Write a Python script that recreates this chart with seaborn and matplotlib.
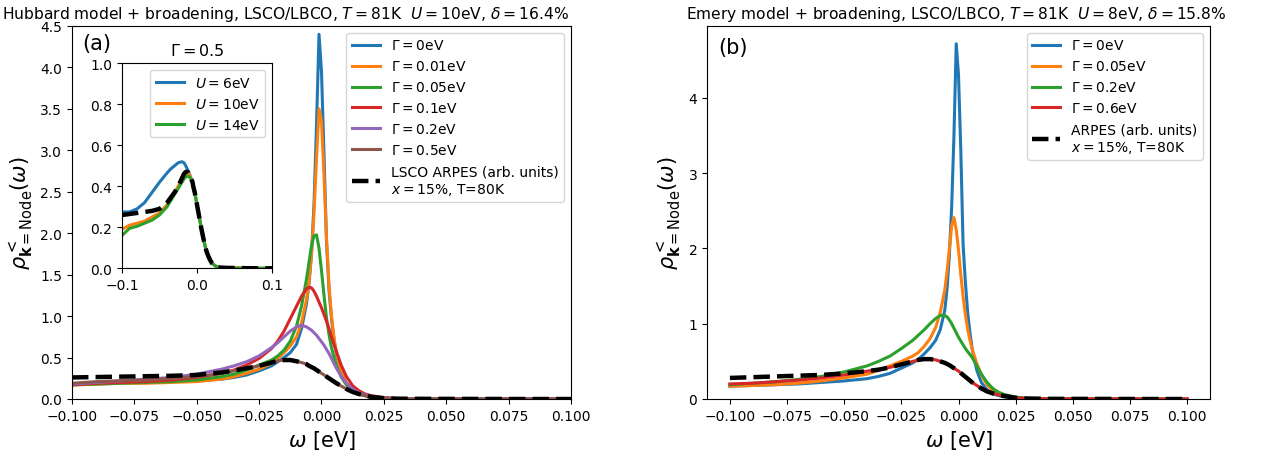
import matplotlib
matplotlib.use("Agg")
import matplotlib.pyplot as plt
import seaborn as sns

# ---------------- data ----------------
OMEGA = [-0.1, -0.09, -0.08, -0.07, -0.06, -0.05, -0.04,
         -0.035, -0.03, -0.025, -0.02, -0.0175, -0.015, -0.0125,
         -0.01, -0.008, -0.006, -0.005, -0.004, -0.003, -0.002, -0.001,
         0.0, 0.001, 0.002, 0.003, 0.004, 0.005, 0.006, 0.008,
         0.01, 0.0125, 0.015, 0.0175, 0.02, 0.025, 0.03, 0.04, 0.06, 0.08, 0.1]

# panel (a): Hubbard model, U = 10 eV
A_G0 = [0.18, 0.19, 0.20, 0.20, 0.21, 0.22, 0.24,
        0.26, 0.29, 0.34, 0.40, 0.45, 0.50, 0.56,
        0.66, 0.85, 1.15, 1.40, 1.75, 2.35, 3.30, 4.40,
        3.95, 2.95, 1.90, 1.32, 0.97, 0.72, 0.53, 0.30,
        0.18, 0.10, 0.06, 0.04, 0.025, 0.01, 0.005, 0.002, 0.001, 0.0, 0.0]
A_G001 = [0.17, 0.18, 0.19, 0.19, 0.20, 0.21, 0.24,
          0.27, 0.31, 0.36, 0.43, 0.49, 0.56, 0.64,
          0.75, 0.92, 1.20, 1.42, 1.75, 2.25, 2.90, 3.50,
          3.35, 2.70, 1.95, 1.38, 1.00, 0.74, 0.55, 0.32,
          0.19, 0.11, 0.065, 0.04, 0.025, 0.01, 0.005, 0.002, 0.001, 0.0, 0.0]
A_G005 = [0.17, 0.18, 0.19, 0.20, 0.21, 0.23, 0.27,
          0.30, 0.35, 0.41, 0.47, 0.52, 0.59, 0.70,
          0.88, 1.12, 1.45, 1.65, 1.85, 1.97, 1.98, 1.82,
          1.55, 1.25, 0.98, 0.78, 0.62, 0.50, 0.40, 0.26,
          0.17, 0.10, 0.06, 0.04, 0.025, 0.01, 0.005, 0.002, 0.001, 0.0, 0.0]
A_G01 = [0.17, 0.19, 0.20, 0.21, 0.23, 0.26, 0.31,
         0.35, 0.41, 0.49, 0.61, 0.70, 0.82, 0.97,
         1.12, 1.24, 1.33, 1.35, 1.34, 1.30, 1.24, 1.17,
         1.10, 1.02, 0.94, 0.85, 0.75, 0.66, 0.57, 0.40,
         0.27, 0.16, 0.10, 0.06, 0.04, 0.015, 0.006, 0.002, 0.001, 0.0, 0.0]
A_G02 = [0.18, 0.20, 0.22, 0.24, 0.26, 0.30, 0.36,
         0.40, 0.45, 0.52, 0.62, 0.68, 0.75, 0.82,
         0.87, 0.89, 0.87, 0.85, 0.83, 0.80, 0.77, 0.73,
         0.69, 0.65, 0.60, 0.55, 0.49, 0.43, 0.37, 0.27,
         0.19, 0.12, 0.075, 0.05, 0.03, 0.012, 0.005, 0.002, 0.001, 0.0, 0.0]
A_G05 = [0.19, 0.21, 0.22, 0.23, 0.25, 0.27, 0.31,
         0.34, 0.37, 0.40, 0.44, 0.46, 0.47, 0.47,
         0.455, 0.44, 0.42, 0.40, 0.385, 0.37, 0.35, 0.33,
         0.31, 0.29, 0.27, 0.25, 0.23, 0.21, 0.19, 0.155,
         0.12, 0.085, 0.06, 0.04, 0.025, 0.01, 0.004, 0.002, 0.001, 0.0, 0.0]
A_ARPES = [0.26, 0.265, 0.27, 0.275, 0.28, 0.29, 0.32,
           0.345, 0.37, 0.40, 0.44, 0.46, 0.47, 0.47,
           0.455, 0.44, 0.42, 0.40, 0.385, 0.37, 0.35, 0.33,
           0.31, 0.29, 0.27, 0.25, 0.23, 0.21, 0.19, 0.155,
           0.12, 0.085, 0.06, 0.04, 0.025, 0.01, 0.004, 0.002, 0.001, 0.0, 0.0]

# inset of (a): Gamma = 0.5, different U
IN_U6 = [0.275, 0.275, 0.29, 0.32, 0.37, 0.42, 0.465,
         0.485, 0.50, 0.515, 0.52, 0.515, 0.50, 0.48,
         0.46, 0.44, 0.42, 0.40, 0.385, 0.37, 0.35, 0.33,
         0.31, 0.29, 0.27, 0.25, 0.23, 0.21, 0.19, 0.155,
         0.12, 0.085, 0.06, 0.04, 0.025, 0.01, 0.004, 0.002, 0.001, 0.0, 0.0]
IN_U10 = [0.19, 0.21, 0.22, 0.23, 0.25, 0.27, 0.31,
          0.34, 0.37, 0.40, 0.44, 0.46, 0.47, 0.47,
          0.455, 0.44, 0.42, 0.40, 0.385, 0.37, 0.35, 0.33,
          0.31, 0.29, 0.27, 0.25, 0.23, 0.21, 0.19, 0.155,
          0.12, 0.085, 0.06, 0.04, 0.025, 0.01, 0.004, 0.002, 0.001, 0.0, 0.0]
IN_U14 = [0.16, 0.195, 0.205, 0.22, 0.235, 0.26, 0.30,
          0.33, 0.36, 0.39, 0.42, 0.435, 0.445, 0.45,
          0.445, 0.435, 0.42, 0.40, 0.385, 0.37, 0.35, 0.33,
          0.31, 0.29, 0.27, 0.25, 0.23, 0.21, 0.19, 0.155,
          0.12, 0.085, 0.06, 0.04, 0.025, 0.01, 0.004, 0.002, 0.001, 0.0, 0.0]

# panel (b): Emery model, U = 8 eV
B_G0 = [0.17, 0.18, 0.19, 0.20, 0.22, 0.24, 0.27,
        0.30, 0.34, 0.41, 0.48, 0.53, 0.60, 0.68,
        0.78, 0.92, 1.18, 1.47, 1.92, 2.55, 3.50, 4.72,
        4.30, 3.30, 2.05, 1.55, 1.15, 0.88, 0.66, 0.38,
        0.22, 0.12, 0.07, 0.045, 0.03, 0.012, 0.005, 0.002, 0.001, 0.0, 0.0]
B_G005 = [0.17, 0.18, 0.19, 0.21, 0.24, 0.28, 0.33,
          0.38, 0.44, 0.50, 0.57, 0.62, 0.70, 0.80,
          0.95, 1.15, 1.45, 1.70, 2.00, 2.30, 2.41, 2.25,
          1.98, 1.65, 1.36, 1.12, 0.93, 0.78, 0.66, 0.47,
          0.32, 0.19, 0.11, 0.065, 0.04, 0.015, 0.006, 0.002, 0.001, 0.0, 0.0]
B_G02 = [0.19, 0.21, 0.23, 0.26, 0.30, 0.36, 0.44,
         0.50, 0.57, 0.67, 0.78, 0.85, 0.92, 1.00,
         1.07, 1.11, 1.11, 1.09, 1.05, 1.00, 0.94, 0.88,
         0.82, 0.77, 0.72, 0.67, 0.63, 0.59, 0.55, 0.44,
         0.33, 0.22, 0.14, 0.09, 0.06, 0.025, 0.01, 0.003, 0.001, 0.0, 0.0]
B_G06 = [0.20, 0.21, 0.23, 0.25, 0.28, 0.32, 0.37,
         0.39, 0.42, 0.46, 0.50, 0.52, 0.53, 0.53,
         0.52, 0.50, 0.48, 0.465, 0.45, 0.43, 0.41, 0.39,
         0.37, 0.345, 0.32, 0.295, 0.27, 0.245, 0.22, 0.18,
         0.14, 0.10, 0.075, 0.055, 0.04, 0.015, 0.006, 0.002, 0.001, 0.0, 0.0]
B_ARPES = [0.28, 0.29, 0.30, 0.31, 0.32, 0.34, 0.37,
           0.39, 0.42, 0.46, 0.50, 0.52, 0.53, 0.53,
           0.52, 0.50, 0.48, 0.465, 0.45, 0.43, 0.41, 0.39,
           0.37, 0.345, 0.32, 0.295, 0.27, 0.245, 0.22, 0.18,
           0.14, 0.10, 0.075, 0.055, 0.04, 0.015, 0.006, 0.002, 0.001, 0.0, 0.0]

A_LABELS = [r"$\Gamma = 0$eV", r"$\Gamma = 0.01$eV", r"$\Gamma = 0.05$eV",
            r"$\Gamma = 0.1$eV", r"$\Gamma = 0.2$eV", r"$\Gamma = 0.5$eV"]
B_LABELS = [r"$\Gamma = 0$eV", r"$\Gamma = 0.05$eV", r"$\Gamma = 0.2$eV",
            r"$\Gamma = 0.6$eV"]
IN_LABELS = [r"$U = 6$eV", r"$U = 10$eV", r"$U = 14$eV"]
ARPES_A_LABEL = "LSCO ARPES (arb. units)\n" + r"$x = 15\%$, T=80K"
ARPES_B_LABEL = "ARPES (arb. units)\n" + r"$x = 15\%$, T=80K"
TITLE_A = r"Hubbard model + broadening, LSCO/LBCO, $T = 81$K  $U = 10$eV, $\delta = 16.4\%$"
TITLE_B = r"Emery model + broadening, LSCO/LBCO, $T = 81$K  $U = 8$eV, $\delta = 15.8\%$"

# ---------------- figure ----------------
plt.rcParams["font.family"] = ["DejaVu Sans"]
COLORS = sns.color_palette("tab10")

fig = plt.figure(figsize=(12.71, 4.56), dpi=100)
ax1 = fig.add_axes([0.05665, 0.12281, 0.3926, 0.8180])
ax2 = fig.add_axes([0.5563, 0.12281, 0.3957, 0.8180])
axin = fig.add_axes([0.0960, 0.4094, 0.1180, 0.4496])

LW = 2.2
LW_D = 3.2

# panel (a)
for i, (ys, lab) in enumerate(zip([A_G0, A_G001, A_G005, A_G01, A_G02, A_G05], A_LABELS)):
    sns.lineplot(x=OMEGA, y=ys, ax=ax1, color=COLORS[i], linewidth=LW,
                 label=lab, estimator=None, sort=False, legend=False)
sns.lineplot(x=OMEGA, y=A_ARPES, ax=ax1, color="black", linewidth=LW_D,
             linestyle="--", label=ARPES_A_LABEL, estimator=None, sort=False, legend=False)
ax1.set_xlim(-0.1, 0.1)
ax1.set_ylim(0, 4.5)
ax1.set_xticks([-0.1, -0.075, -0.05, -0.025, 0.0, 0.025, 0.05, 0.075, 0.1])
ax1.set_xlabel(r"$\omega$ [eV]", fontsize=15)
ax1.set_ylabel(r"$\rho^{<}_{\mathbf{k}=\mathrm{Node}}(\omega)$", fontsize=15)
ax1.set_title(TITLE_A, fontsize=11.2, x=0.428)
ax1.text(0.02, 0.98, "(a)", transform=ax1.transAxes, fontsize=15, va="top", ha="left")
ax1.legend(loc="upper right", fontsize=10)

# inset
for i, (ys, lab) in enumerate(zip([IN_U6, IN_U10, IN_U14], IN_LABELS)):
    sns.lineplot(x=OMEGA, y=ys, ax=axin, color=COLORS[i], linewidth=LW,
                 label=lab, estimator=None, sort=False, legend=False)
sns.lineplot(x=OMEGA, y=A_ARPES, ax=axin, color="black", linewidth=LW_D,
             linestyle="--", label="_nolegend_", estimator=None, sort=False, legend=False)
axin.set_xlim(-0.1, 0.1)
axin.set_ylim(0, 1)
axin.set_xticks([-0.1, 0.0, 0.1])
axin.set_yticks([0, 0.2, 0.4, 0.6, 0.8, 1.0])
axin.set_title(r"$\Gamma = 0.5$", fontsize=11.5)
h, l = axin.get_legend_handles_labels()
axin.legend(h[:3], l[:3], loc="upper right", fontsize=10)

# panel (b)
for i, (ys, lab) in enumerate(zip([B_G0, B_G005, B_G02, B_G06], B_LABELS)):
    sns.lineplot(x=OMEGA, y=ys, ax=ax2, color=COLORS[i], linewidth=LW,
                 label=lab, estimator=None, sort=False, legend=False)
sns.lineplot(x=OMEGA, y=B_ARPES, ax=ax2, color="black", linewidth=LW_D,
             linestyle="--", label=ARPES_B_LABEL, estimator=None, sort=False, legend=False)
ax2.set_ylim(bottom=0)
ax2.set_xticks([-0.1, -0.075, -0.05, -0.025, 0.0, 0.025, 0.05, 0.075, 0.1])
ax2.set_xlabel(r"$\omega$ [eV]", fontsize=15)
ax2.set_ylabel(r"$\rho^{<}_{\mathbf{k}=\mathrm{Node}}(\omega)$", fontsize=15)
ax2.set_title(TITLE_B, fontsize=11.2, x=0.495)
ax2.text(0.022, 0.97, "(b)", transform=ax2.transAxes, fontsize=15, va="top", ha="left")
ax2.legend(loc="upper right", fontsize=10)

fig.savefig("out.png", dpi=100)
